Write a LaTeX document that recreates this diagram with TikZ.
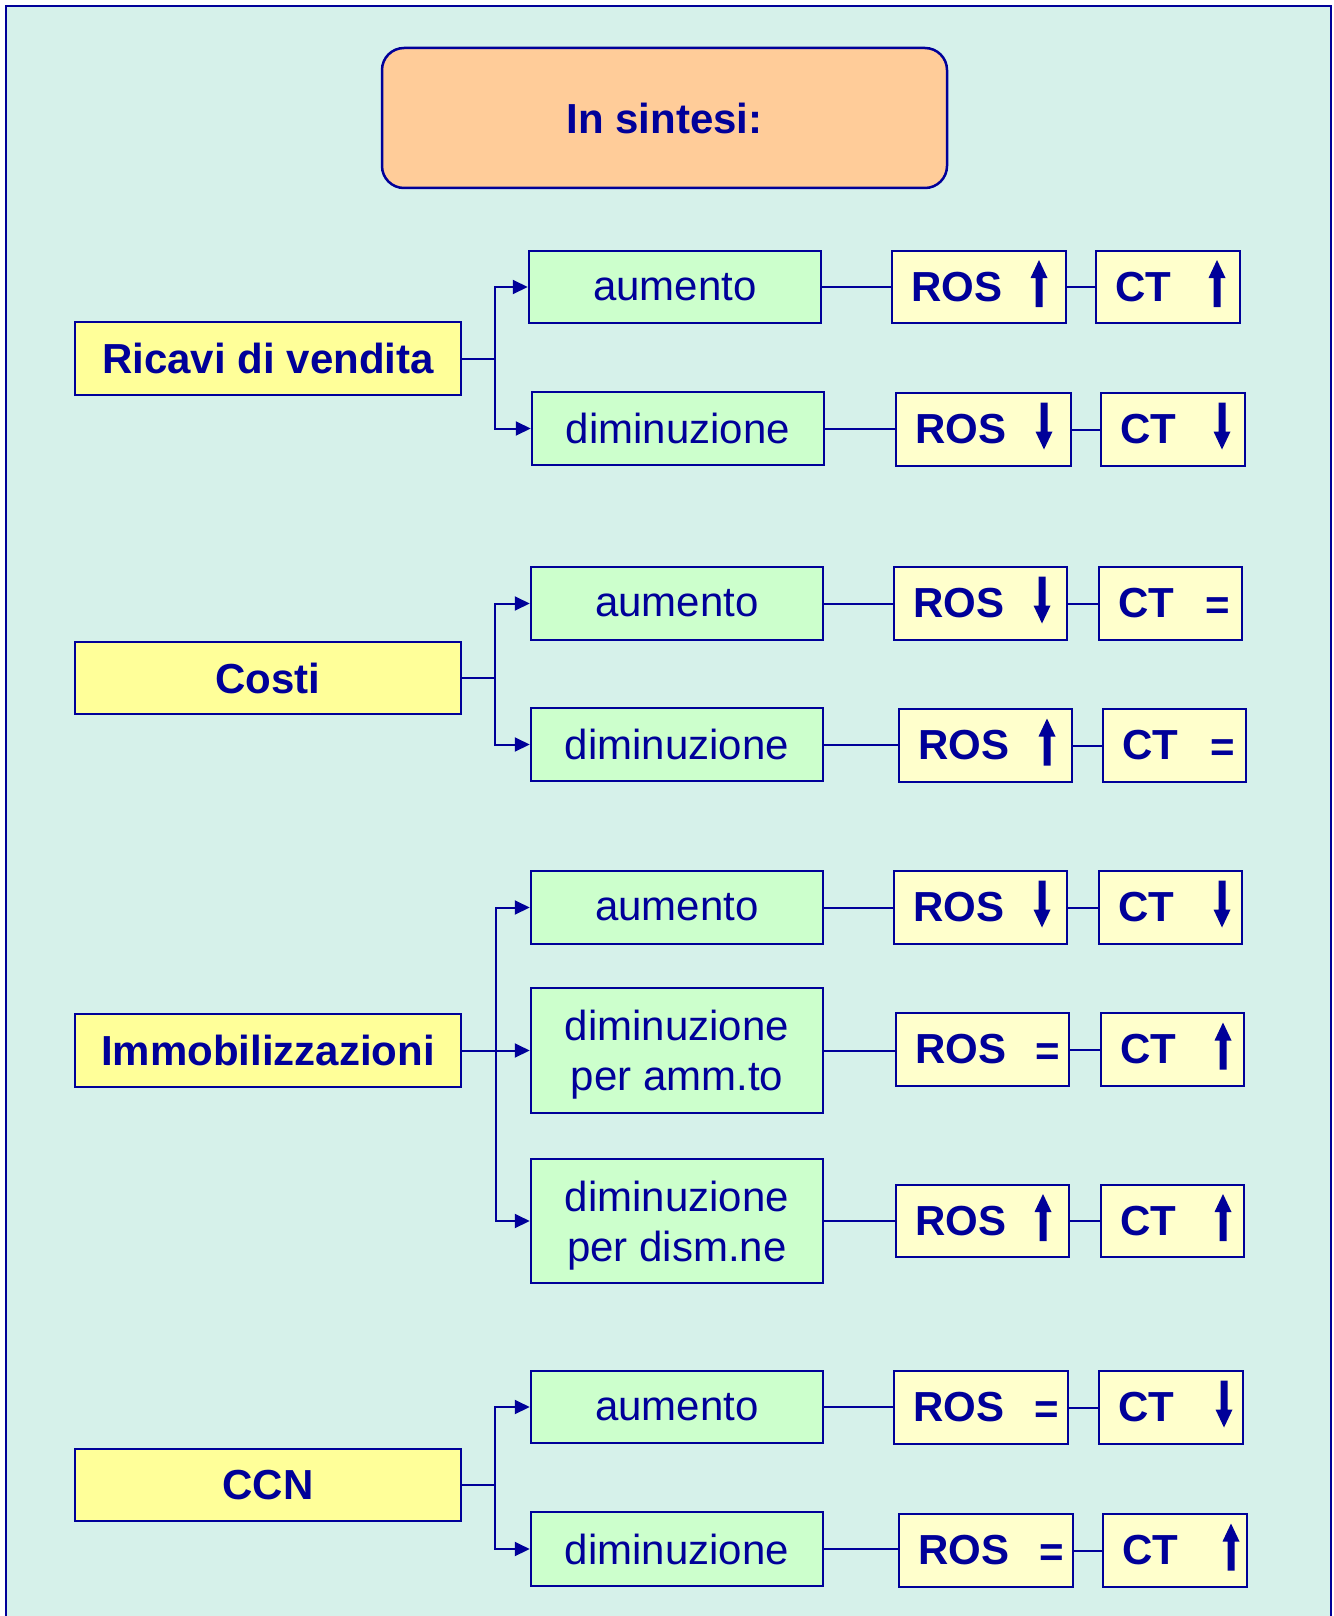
\documentclass[tikz,border=0pt]{standalone}
\usepackage{fontspec}
\setmainfont{Liberation Sans}
\usetikzlibrary{arrows.meta}

\definecolor{navy}{RGB}{0,0,153}
\definecolor{bgmint}{RGB}{214,241,234}
\definecolor{peach}{RGB}{255,204,153}
\definecolor{ylw}{RGB}{255,255,153}
\definecolor{pale}{RGB}{255,255,204}
\definecolor{mint}{RGB}{204,255,204}

\tikzset{
  base/.style={draw=navy, line width=2.5pt, text=navy, inner sep=0pt,
    font=\fontsize{42}{50}\selectfont},
  headbox/.style={base, fill=peach, rounded corners=22pt,
    font=\bfseries\fontsize{42}{50}\selectfont},
  catbox/.style={base, fill=ylw, font=\bfseries\fontsize{42}{50}\selectfont},
  chbox/.style={base, fill=mint, align=center},
  twoline/.style={text depth=0pt},
  resbox/.style={base, fill=pale, font=\bfseries\fontsize{42}{50}\selectfont,
    align=left, inner xsep=19pt},
  link/.style={draw=navy, line width=2pt},
  branch/.style={link, -{Triangle[length=15pt,width=14pt]}},
  sym/.style={text=navy, font=\bfseries\fontsize{42}{50}\selectfont,
    inner sep=0pt, anchor=base},
}

% box given by its corners: name, style, x1, y1, x2, y2, text
\newcommand\boxnode[7]{%
  \node[#2, minimum width={#5-#3}, minimum height={#6-#4}]
    (#1) at ({(#3+#5)/2},{(#4+#6)/2}) {#7};}
% result box with left-set label: name, x1, y1, x2, y2, text
\newcommand\resnode[6]{%
  \node[resbox, minimum width={#4-#2}, minimum height={#5-#3},
    text width={#4-#2-38}] (#1) at ({(#2+#4)/2},{(#3+#5)/2}) {#6};}
% trend marks: x, vertical centre of the box
\newcommand\upsym[2]{\fill[navy] (#1,#2) ++(0,-27) -- ++(8.5,18) -- ++(-5,0)
  -- ++(0,29) -- ++(-7,0) -- ++(0,-29) -- ++(-5,0) -- cycle;}
\newcommand\downsym[2]{\fill[navy] (#1,#2) ++(0,20) -- ++(8.5,-18) -- ++(-5,0)
  -- ++(0,-29) -- ++(-7,0) -- ++(0,29) -- ++(-5,0) -- cycle;}
\newcommand\eqsym[2]{\node[sym] at (#1,{#2+15.5}) {=};}

\begin{document}
\begin{tikzpicture}[x=1pt, y=-1pt]
  \useasboundingbox (0,0) rectangle (1333,1616);
  \fill[white] (0,0) rectangle (1333,1616);
  \draw[navy, line width=2.5pt, fill=bgmint] (6,6) rectangle (1331,1620);

  % title
  \boxnode{head}{headbox}{382}{48}{947}{188}{In sintesi:}

  % categories
  \boxnode{ric}{catbox}{75}{322}{461}{395}{Ricavi di vendita}
  \boxnode{cos}{catbox}{75}{642}{461}{714}{Costi}
  \boxnode{imm}{catbox}{75}{1014}{461}{1087}{Immobilizzazioni}
  \boxnode{ccn}{catbox}{75}{1449}{461}{1521}{CCN}

  % changes
  \boxnode{g1}{chbox}{529}{251}{821}{323}{aumento}
  \boxnode{g2}{chbox}{532}{392}{824}{465}{diminuzione}
  \boxnode{g3}{chbox}{531}{567}{823}{640}{aumento}
  \boxnode{g4}{chbox}{531}{708}{823}{781}{diminuzione}
  \boxnode{g5}{chbox}{531}{871}{823}{944}{aumento}
  \boxnode{g6}{chbox,twoline}{531}{988}{823}{1113}{diminuzione\\per amm.to}
  \boxnode{g7}{chbox,twoline}{531}{1159}{823}{1283}{diminuzione\\per dism.ne}
  \boxnode{g8}{chbox}{531}{1371}{823}{1443}{aumento}
  \boxnode{g9}{chbox}{531}{1512}{823}{1586}{diminuzione}

  % effects on ROS and CT
  \resnode{r1}{892}{251}{1066}{323}{ROS}  \resnode{c1}{1096}{251}{1240}{323}{CT}
  \resnode{r2}{896}{393}{1071}{466}{ROS}  \resnode{c2}{1101}{393}{1245}{466}{CT}
  \resnode{r3}{894}{567}{1067}{640}{ROS}  \resnode{c3}{1099}{567}{1242}{640}{CT}
  \resnode{r4}{899}{709}{1072}{782}{ROS}  \resnode{c4}{1103}{709}{1246}{782}{CT}
  \resnode{r5}{894}{871}{1067}{944}{ROS}  \resnode{c5}{1099}{871}{1242}{944}{CT}
  \resnode{r6}{896}{1013}{1069}{1086}{ROS} \resnode{c6}{1101}{1013}{1244}{1086}{CT}
  \resnode{r7}{896}{1185}{1069}{1257}{ROS} \resnode{c7}{1101}{1185}{1244}{1257}{CT}
  \resnode{r8}{894}{1371}{1068}{1444}{ROS} \resnode{c8}{1099}{1371}{1243}{1444}{CT}
  \resnode{r9}{899}{1514}{1073}{1587}{ROS} \resnode{c9}{1103}{1514}{1247}{1587}{CT}

  % trend marks
  \upsym{1039}{287}      \upsym{1217}{287}
  \downsym{1044}{429.5}  \downsym{1222}{429.5}
  \downsym{1042}{603.5}  \eqsym{1218}{603.5}
  \upsym{1047}{745.5}    \eqsym{1223}{745.5}
  \downsym{1042}{907.5}  \downsym{1222}{907.5}
  \eqsym{1048}{1049.5}   \upsym{1223}{1049.5}
  \upsym{1043}{1221}     \upsym{1223}{1221}
  \eqsym{1047}{1407.5}   \downsym{1224}{1407.5}
  \eqsym{1052}{1550.5}   \upsym{1231}{1550.5}

  % branches
  \draw[branch] (ric.east) -- ++(33,0) |- (g1.west);
  \draw[branch] (ric.east) -- ++(33,0) |- (g2.west);
  \draw[branch] (cos.east) -- ++(33,0) |- (g3.west);
  \draw[branch] (cos.east) -- ++(33,0) |- (g4.west);
  \draw[branch] (imm.east) -- ++(34,0) |- (g5.west);
  \draw[branch] (imm.east) -- (g6.west);
  \draw[branch] (imm.east) -- ++(34,0) |- (g7.west);
  \draw[branch] (ccn.east) -- ++(33,0) |- (g8.west);
  \draw[branch] (ccn.east) -- ++(33,0) |- (g9.west);

  % links to the effects
  \foreach \i in {1,...,9}{
    \draw[link] (g\i.east) -- (g\i.east -| r\i.west);
    \draw[link] (r\i.east) -- (r\i.east -| c\i.west);
  }
\end{tikzpicture}
\end{document}
